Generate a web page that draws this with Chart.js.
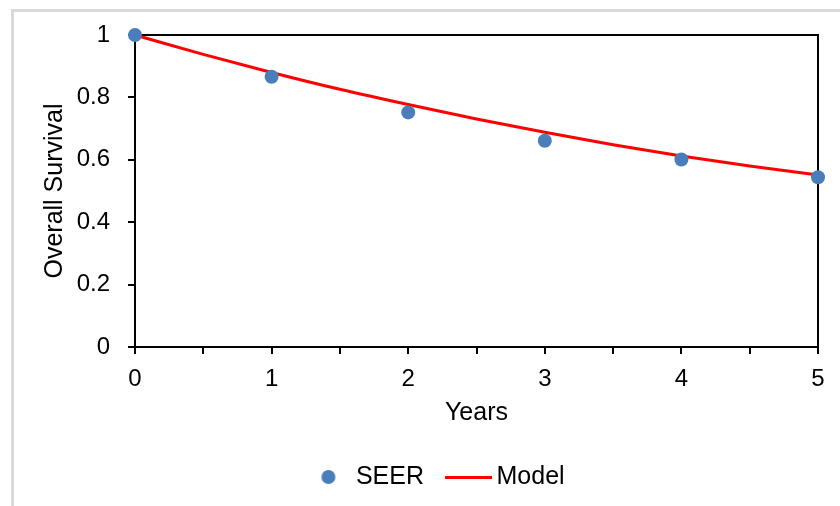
<!DOCTYPE html>
<html>
<head>
<meta charset="utf-8">
<script src="https://cdn.jsdelivr.net/npm/chart.js@4/dist/chart.umd.min.js"></script>
<style>
  body { margin: 0; background: #fff; }
  #wrap { position: relative; width: 840px; height: 506px; overflow: hidden; }
  #frame { position: absolute; left: 11px; top: 9px; width: 900px; height: 600px;
           border-left: 3px solid #d9d9d9; border-top: 3px solid #d9d9d9; }
  #c { position: absolute; left: 0; top: 0; }
</style>
</head>
<body>
<div id="wrap">
  <div id="frame"></div>
  <canvas id="c" width="840" height="506"></canvas>
</div>
<script>
// SEER observed survival
const seerYears = [0, 1, 2, 3, 4, 5];
const seerSurvival = [1.0, 0.866, 0.752, 0.661, 0.601, 0.544];

const modelYears = [0, 0.5, 1, 1.5, 2, 2.5, 3, 3.5, 4, 4.5, 5];
const modelSurvival = [1.0, 0.938, 0.88, 0.826, 0.777, 0.731, 0.688, 0.648, 0.612, 0.58, 0.551];

const yTicks = [0, 0.2, 0.4, 0.6, 0.8, 1];

const blue = '#4a7ebb';
const red = '#ff0000';
const font = 'Liberation Sans, Arial, sans-serif';

// little images for the legend markers
function legendCircle() {
  const c = document.createElement('canvas');
  c.width = 16; c.height = 16;
  const g = c.getContext('2d');
  g.fillStyle = blue;
  g.beginPath(); g.arc(8, 8, 7, 0, Math.PI * 2); g.fill();
  return c;
}
function legendLine() {
  const c = document.createElement('canvas');
  c.width = 47; c.height = 3;
  const g = c.getContext('2d');
  g.fillStyle = red;
  g.fillRect(0, 0, 47, 3);
  return c;
}
const legendIcons = [legendCircle(), legendLine()];

const axisGrid = { drawOnChartArea: false, color: '#000', lineWidth: 2, tickLength: 7 };
const axisBorder = { color: '#000', width: 2 };

new Chart(document.getElementById('c').getContext('2d'), {
  type: 'scatter',
  data: {
    datasets: [
      {
        label: 'SEER',
        data: seerYears.map((x, i) => ({ x: x, y: seerSurvival[i] })),
        backgroundColor: blue,
        borderWidth: 0,
        pointRadius: 7,
        pointHoverRadius: 7,
        clip: false,
        order: 0
      },
      {
        label: 'Model',
        type: 'line',
        data: modelYears.map((x, i) => ({ x: x, y: modelSurvival[i] })),
        borderColor: red,
        borderWidth: 3,
        pointRadius: 0,
        cubicInterpolationMode: 'monotone',
        fill: false,
        clip: false,
        order: 1
      }
    ]
  },
  options: {
    responsive: false,
    animation: false,
    devicePixelRatio: 1,
    layout: { padding: { left: 38, top: 35, right: 0, bottom: 6.5 } },
    plugins: {
      tooltip: { enabled: false },
      legend: {
        position: 'bottom',
        labels: {
          usePointStyle: true,
          pointStyleWidth: 30,
          padding: 30,
          color: '#000',
          font: { family: font, size: 25 },
          generateLabels(chart) {
            const items = Chart.defaults.plugins.legend.labels.generateLabels(chart);
            items.forEach((it, i) => { it.pointStyle = legendIcons[i]; });
            return items;
          }
        }
      }
    },
    scales: {
      x: {
        type: 'linear',
        position: 'bottom',
        min: 0,
        max: 5,
        grid: axisGrid,
        border: axisBorder,
        ticks: {
          stepSize: 0.5,
          padding: 11,
          color: '#000',
          font: { family: font, size: 24 },
          callback: v => Number.isInteger(v) ? String(v) : ''
        },
        title: {
          display: true,
          text: 'Years',
          color: '#000',
          font: { family: font, size: 25 },
          padding: { top: 0, bottom: 6.5 }
        },
        afterFit(s) { s.height = 87.5; }
      },
      y: {
        position: 'left',
        min: 0,
        max: 1,
        grid: axisGrid,
        border: axisBorder,
        afterBuildTicks(s) { s.ticks = yTicks.map(v => ({ value: v })); },
        ticks: {
          padding: 18,
          color: '#000',
          font: { family: font, size: 24 },
          callback: v => String(v)
        },
        title: {
          display: true,
          text: 'Overall Survival',
          color: '#000',
          font: { family: font, size: 25 },
          padding: { top: 2, bottom: 0 }
        },
        afterFit(s) { s.width = 97; }
      },
      // top and right edges of the plot box
      x2: {
        type: 'linear',
        position: 'top',
        min: 0,
        max: 5,
        grid: { display: false },
        border: axisBorder,
        ticks: { display: false },
        afterFit(s) { s.height = 0; }
      },
      y2: {
        position: 'right',
        min: 0,
        max: 1,
        grid: { display: false },
        border: axisBorder,
        ticks: { display: false },
        afterFit(s) { s.width = 22; }
      }
    }
  }
});
</script>
</body>
</html>
